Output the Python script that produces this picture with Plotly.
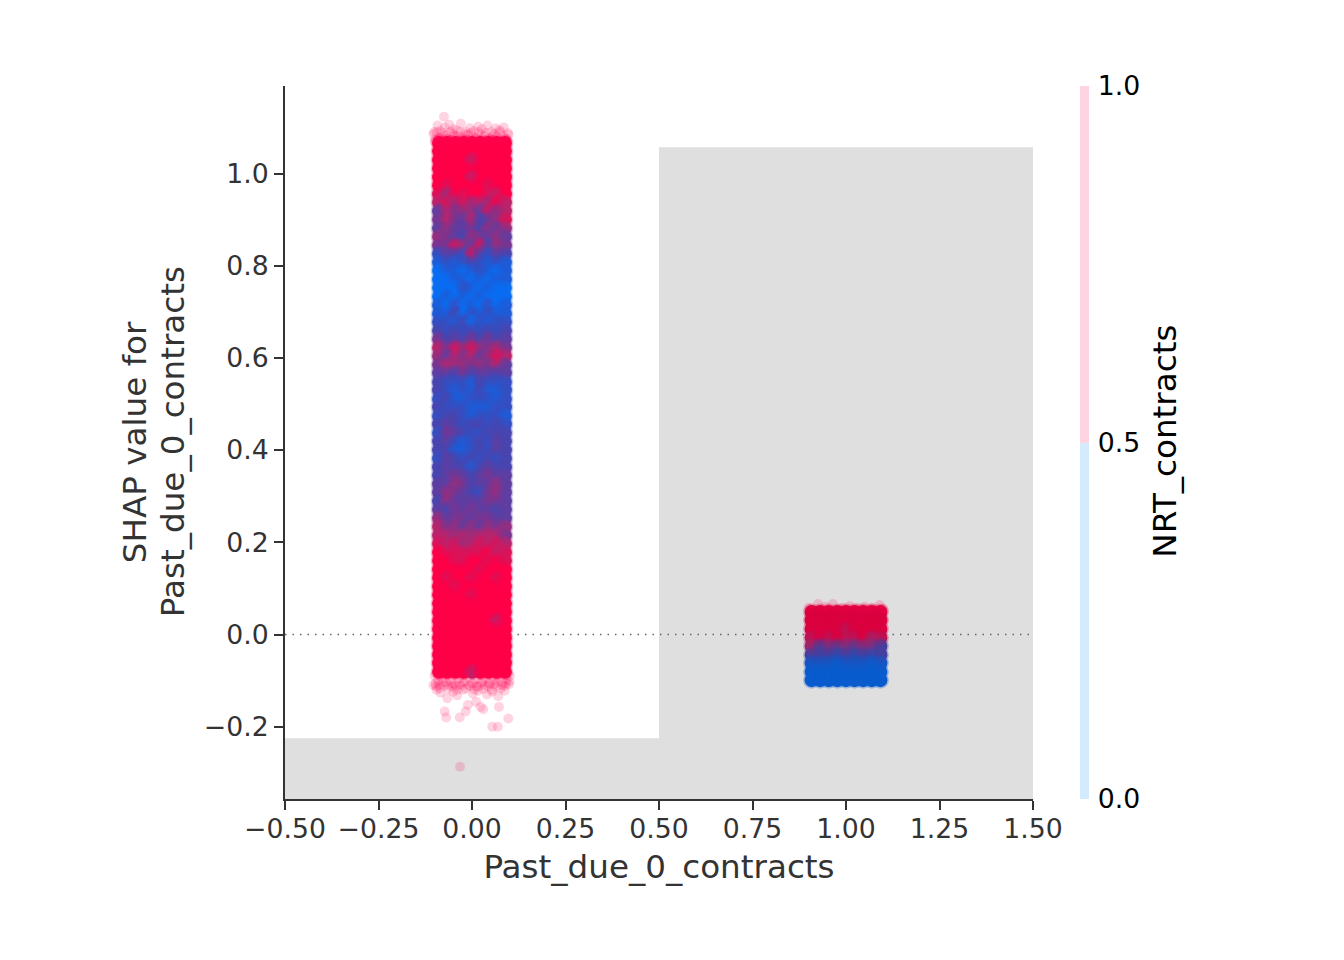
import plotly.graph_objects as go

# Grey background bins (left edge -0.5..0.5, right 0.5..1.5)
bin_centers = [0.0, 1.0]
bin_widths = [1.0, 1.0]
bin_tops = [-0.225, 1.057]
y_min, y_max = -0.3568, 1.1898

x_ticks = [-0.5, -0.25, 0, 0.25, 0.5, 0.75, 1.0, 1.25, 1.5]
y_ticks = [-0.2, 0, 0.2, 0.4, 0.6, 0.8, 1.0]
nrt_ticks = [0, 0.5, 1]

# Cloud read as a table: one digit per column, 0 = all blue ... 9 = all red
left_columns = [-0.088, -0.066, -0.044, -0.022, 0.0, 0.022, 0.044, 0.066, 0.088]
left_y = [1.066, 1.048, 1.029, 1.011, 0.992, 0.974, 0.955, 0.937, 0.918, 0.900,
          0.881, 0.863, 0.844, 0.826, 0.807, 0.789, 0.770, 0.752, 0.733, 0.715,
          0.696, 0.678, 0.659, 0.641, 0.622, 0.604, 0.585, 0.567, 0.548, 0.530,
          0.511, 0.493, 0.474, 0.456, 0.437, 0.419, 0.400, 0.382, 0.363, 0.345,
          0.326, 0.308, 0.289, 0.271, 0.252, 0.234, 0.215, 0.197, 0.178, 0.160,
          0.141, 0.123, 0.104, 0.086, 0.067, 0.049, 0.030, 0.012, -0.007, -0.025,
          -0.044, -0.062, -0.081]
left_red = ["999999999", "999999999", "999979999", "999999999", "999979999", "989999899",
            "869899879", "786867697", "475664857", "575473468", "464453646", "654365464",
            "558648365", "243283243", "121232121", "011012101", "001101011", "000210100",
            "010101000", "102010201", "113021211", "221302122", "323232323", "534353534",
            "758686575", "647574687", "576656574", "443534434", "322213222", "321213112",
            "231122212", "322211122", "233212221", "343233232", "254322333", "342123243",
            "331123243", "243232323", "343313433", "345434544", "446534464", "465432564",
            "364444554", "435454434", "645545544", "756464656", "776767775", "878678787",
            "988888978", "998899898", "999998999", "989989989", "998999999", "999989999",
            "999999999", "999999999", "999999979", "999999999", "999999999", "999999999",
            "999999999", "999999999", "999979999"]

right_columns = [0.908, 0.931, 0.954, 0.977, 1.0, 1.023, 1.046, 1.069, 1.092]
right_y = [0.049, 0.031, 0.012, -0.007, -0.025, -0.044, -0.062, -0.081, -0.099]
right_red = ["999999999", "999999999", "999989999", "898988978",
             "746565664", "444343434", "111011101", "000000000", "000000000"]

# Loose single points around the clouds (NRT_contracts = 1)
loose_x = [-0.075, -0.101, -0.092, -0.084, -0.073, -0.061, -0.05, -0.041, -0.03, -0.017,
           -0.006, 0.005, 0.016, 0.027, 0.041, 0.052, 0.063, 0.074, 0.085, 0.096,
           -0.098, -0.08, -0.066, -0.046, -0.026, -0.01, 0.011, 0.033, 0.047, 0.068, 0.09,
           -0.103, -0.094, -0.087, -0.077, -0.069, -0.058, -0.052, -0.037, -0.031, -0.019, -0.003, 0.004,
           0.018, 0.025, 0.037, 0.054, 0.06, 0.075, 0.082, 0.098,
           -0.1, -0.09, -0.072, -0.055, -0.036, -0.014, 0.001, 0.021, 0.04, 0.058, 0.079, 0.094,
           -0.1, -0.091, -0.08, -0.07, -0.058, -0.047, -0.035, -0.022, -0.012, 0.0, 0.012,
           0.024, 0.036, 0.047, 0.06, 0.07, 0.082, 0.093, 0.101,
           -0.103, -0.096, -0.087, -0.075, -0.063, -0.052, -0.04, -0.029, -0.017, -0.005, 0.006, 0.018,
           0.03, 0.042, 0.053, 0.065, 0.077, 0.088, 0.099,
           -0.098, -0.088, -0.078, -0.065, -0.055, -0.043, -0.034, -0.023, -0.008, 0.003, 0.013, 0.027,
           0.034, 0.046, 0.058, 0.067, 0.08, 0.091, 0.1,
           -0.095, -0.084, -0.066, -0.05, -0.04, -0.024, 0.002, 0.016, 0.04, 0.054, 0.07, 0.087,
           -0.073, -0.069, -0.033, -0.017, -0.011, 0.011, 0.023, 0.03, 0.072, 0.097, 0.054, 0.069, -0.032,
           0.9, 0.925, 0.945, 0.965, 0.99, 1.01, 1.03, 1.05, 1.07, 1.09, 1.1]
loose_y = [1.123, 1.09, 1.104, 1.092, 1.1, 1.106, 1.096, 1.094, 1.108, 1.09,
           1.098, 1.092, 1.102, 1.096, 1.104, 1.09, 1.098, 1.094, 1.1, 1.088,
           1.075, 1.08, 1.076, 1.082, 1.078, 1.084, 1.078, 1.082, 1.076, 1.08, 1.076,
           1.085, 1.09, 1.078, 1.088, 1.082, 1.09, 1.086, 1.08, 1.09, 1.084, 1.088, 1.08,
           1.09, 1.085, 1.088, 1.08, 1.086, 1.09, 1.082, 1.084,
           1.07, 1.072, 1.07, 1.074, 1.07, 1.074, 1.07, 1.072, 1.07, 1.074, 1.07, 1.072,
           -0.09, -0.1, -0.095, -0.104, -0.098, -0.108, -0.096, -0.102, -0.094, -0.106, -0.098,
           -0.104, -0.096, -0.108, -0.1, -0.094, -0.104, -0.098, -0.09,
           -0.11, -0.112, -0.116, -0.111, -0.118, -0.113, -0.12, -0.111, -0.117, -0.112, -0.119, -0.113,
           -0.118, -0.112, -0.12, -0.113, -0.117, -0.111, -0.108,
           -0.106, -0.109, -0.104, -0.11, -0.105, -0.112, -0.108, -0.104, -0.11, -0.106, -0.112, -0.104,
           -0.11, -0.105, -0.108, -0.104, -0.11, -0.106, -0.102,
           -0.12, -0.126, -0.138, -0.124, -0.132, -0.12, -0.128, -0.122, -0.13, -0.124, -0.134, -0.122,
           -0.167, -0.18, -0.18, -0.167, -0.153, -0.146, -0.157, -0.162, -0.157, -0.182, -0.2, -0.2, -0.287,
           0.058, 0.066, 0.06, 0.066, 0.058, 0.062, 0.058, 0.06, 0.058, 0.064, 0.056]
loose_nrt = [1] * len(loose_x)

# Styles
RED_BLUE = [[0, "#0a6ef2"], [0.11, "#1f5cd8"], [0.25, "#3a4cbc"], [0.5, "#6a3a9a"], [0.75, "#b02a70"], [1, "#ff0048"]]
RED_BLUE_DARK = [[0, "#0a5cce"], [0.25, "#2450b8"], [0.5, "#503c98"], [0.75, "#982a70"], [1, "#dc0040"]]
BINARY = [[0, "rgba(0,139,251,0.17)"], [0.5, "rgba(0,139,251,0.17)"],
          [0.5, "rgba(255,0,81,0.17)"], [1, "rgba(255,0,81,0.17)"]]
INK = "#333333"
FONT = "DejaVu Sans"


def cloud(columns, ys, rows, scale, size, opacity):
    xs, yy, cc = [], [], []
    for y, row in zip(ys, rows):
        for x, digit in zip(columns, row):
            xs.append(x)
            yy.append(y)
            cc.append(int(digit) / 9)
    return go.Scatter(x=xs, y=yy, mode="markers", hoverinfo="skip", showlegend=False,
                      marker=dict(size=size, color=cc, cmin=0, cmax=1, colorscale=scale,
                                  opacity=opacity, line_width=0, showscale=False))


fig = go.Figure()
fig.add_trace(go.Bar(x=bin_centers, width=bin_widths, base=[y_min, y_min],
                     y=[t - y_min for t in bin_tops], marker=dict(color="#dfdfdf", line_width=0),
                     showlegend=False, hoverinfo="skip"))
fig.add_trace(go.Scatter(x=[-0.5, 1.5], y=[0, 0], mode="lines", showlegend=False, hoverinfo="skip",
                         line=dict(color="#666666", width=1.5, dash="1.5px,6px")))
for size, opacity in [(14, 1.0), (17, 0.3), (12, 0.3)]:
    fig.add_trace(cloud(left_columns, left_y, left_red, RED_BLUE, size, opacity))
    fig.add_trace(cloud(right_columns, right_y, right_red, RED_BLUE_DARK, size, opacity))
fig.add_trace(go.Scatter(
    x=loose_x, y=loose_y, mode="markers", showlegend=False,
    marker=dict(size=10, color=loose_nrt, cmin=0, cmax=1, colorscale=BINARY, line_width=0,
                showscale=True,
                colorbar=dict(x=1.0628, xanchor="left", xpad=0, y=0, yanchor="bottom", ypad=0,
                              len=1, lenmode="fraction", thickness=9, thicknessmode="pixels",
                              outlinewidth=0, borderwidth=0, ticks="outside", ticklen=4,
                              tickcolor="rgba(0,0,0,0)", tickvals=nrt_ticks, tickformat=".1f",
                              tickfont=dict(family=FONT, size=26.7, color="#000000")))))

axis = dict(showgrid=False, zeroline=False, showline=True, linecolor=INK, linewidth=2,
            ticks="outside", ticklen=9, tickwidth=2, tickcolor=INK,
            tickfont=dict(family=FONT, size=26.7, color=INK))
fig.update_xaxes(range=[-0.5, 1.5], tickvals=x_ticks, tickformat=".2f", ticklabelstandoff=-4, **axis,
                 title=dict(text="Past_due_0_contracts", standoff=12,
                            font=dict(family=FONT, size=32.6, color=INK)))
fig.update_yaxes(range=[y_min, y_max], tickvals=y_ticks, tickformat=".1f", **axis)
fig.add_annotation(text="SHAP value for", textangle=-90, xref="paper", yref="paper",
                   x=-0.2003, y=0.5007, xanchor="center", yanchor="middle", showarrow=False,
                   font=dict(family=FONT, size=32.6, color=INK))
fig.add_annotation(text="Past_due_0_contracts", textangle=-90, xref="paper", yref="paper",
                   x=-0.1495, y=0.5007, xanchor="center", yanchor="middle", showarrow=False,
                   font=dict(family=FONT, size=32.6, color=INK))
fig.add_annotation(text="NRT_contracts", textangle=-90, xref="paper", yref="paper",
                   x=1.176, y=0.502, xanchor="center", yanchor="middle", showarrow=False,
                   font=dict(family=FONT, size=32.6, color="#000000"))
fig.update_layout(width=1344, height=960, paper_bgcolor="white", plot_bgcolor="white",
                  margin=dict(l=277, r=319, t=78, b=169, autoexpand=False), barmode="overlay",
                  showlegend=False)
fig.write_html("out.html")
